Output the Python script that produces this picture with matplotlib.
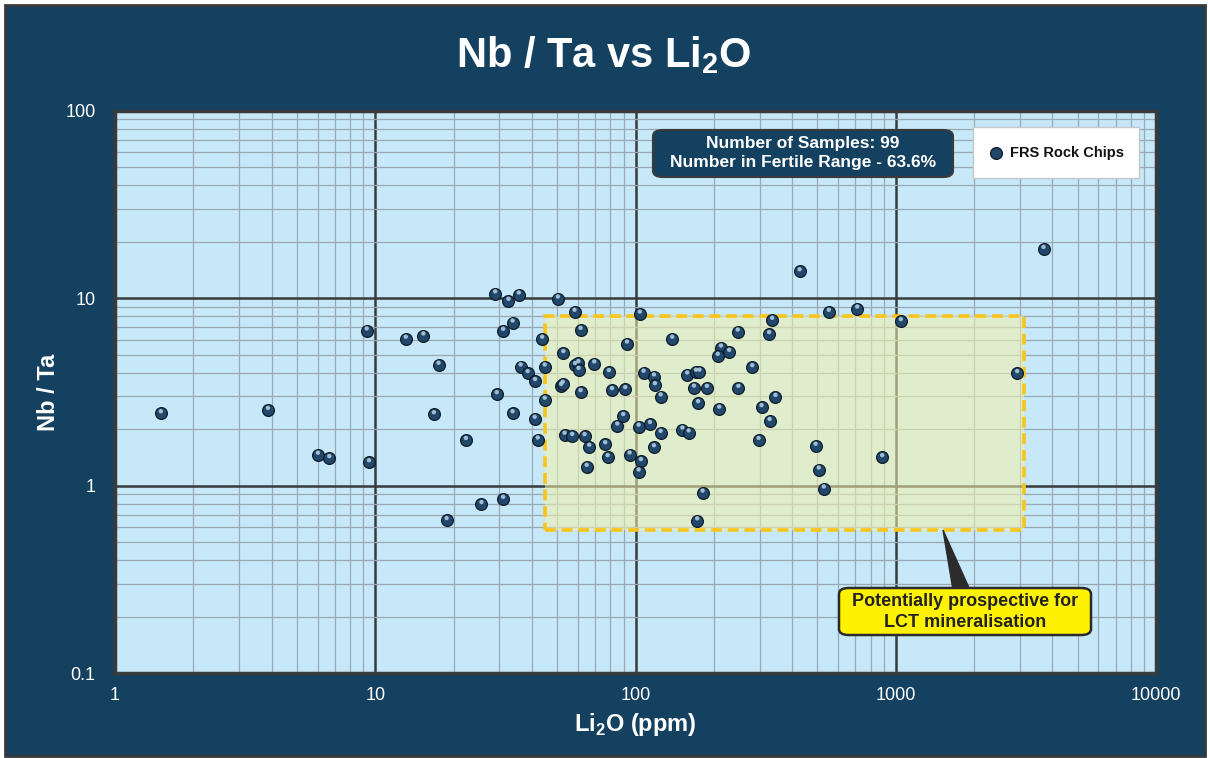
import matplotlib
matplotlib.use("Agg")
import matplotlib.pyplot as plt
from matplotlib.patches import Rectangle, FancyBboxPatch, Polygon
from matplotlib.ticker import LogLocator, FixedLocator, NullFormatter
import matplotlib.transforms as mtransforms

plt.rcParams['font.family'] = ['Liberation Sans', 'DejaVu Sans']
plt.rcParams['mathtext.fontset'] = 'custom'
plt.rcParams['mathtext.rm'] = 'Liberation Sans:bold'
plt.rcParams['mathtext.bf'] = 'Liberation Sans:bold'

# Li2O (ppm) and Nb/Ta for FRS rock chips
li2o = [1.5, 3.87, 6.02, 6.66, 9.46, 9.27, 13.1, 15.3, 17.5, 16.8,
        18.8, 28.9, 32.5, 35.6, 50.3, 58.3, 103.9, 33.7, 31.0, 61.5,
        43.8, 138.4, 247, 92.7, 213, 229, 207, 52.8, 36.2, 38.5,
        44.8, 41.1, 58.5, 60.3, 60.4, 69.4, 79.0, 107.4, 117.7, 118.7,
        158, 170.6, 176, 51.8, 52.5, 61.5, 81.2, 91.3, 124.9, 167.7,
        188, 248.5, 44.8, 29.3, 174, 209.7, 33.7, 41.0, 89.7, 85.1,
        102.8, 113.6, 124.9, 151.4, 160, 42.1, 53.4, 57.1, 63.7, 66.4,
        76.5, 78.1, 94.9, 117.7, 104.9, 102.8, 64.9, 22.3, 31.0, 25.6,
        181, 172.6, 3697, 427, 553, 711, 1046, 335, 326, 281,
        345, 305, 327.5, 297, 492, 887, 506, 529, 2927]
nb_ta = [2.43, 2.53, 1.46, 1.40, 1.33, 6.72, 6.07, 6.32, 4.41, 2.40,
         0.654, 10.6, 9.67, 10.45, 9.95, 8.45, 8.27, 7.41, 6.69, 6.77,
         6.07, 6.07, 6.63, 5.72, 5.45, 5.17, 4.92, 5.09, 4.32, 3.98,
         4.32, 3.61, 4.39, 4.50, 4.14, 4.48, 4.03, 4.00, 3.82, 3.43,
         3.91, 4.05, 4.05, 3.40, 3.49, 3.15, 3.23, 3.27, 2.99, 3.33,
         3.32, 3.32, 2.87, 3.07, 2.75, 2.57, 2.43, 2.27, 2.35, 2.09,
         2.06, 2.13, 1.91, 1.99, 1.92, 1.76, 1.865, 1.84, 1.835, 1.61,
         1.66, 1.417, 1.464, 1.60, 1.35, 1.188, 1.258, 1.75, 0.849, 0.796,
         0.917, 0.652, 18.3, 13.9, 8.45, 8.80, 7.54, 7.66, 6.43, 4.28,
         2.97, 2.62, 2.21, 1.75, 1.63, 1.417, 1.217, 0.964, 3.98]

fertile_x = [45, 3100]
fertile_y = [0.58, 8]

navy = '#14415f'

fig = plt.figure(figsize=(12.08, 7.58), dpi=100, facecolor='white')
fig.patches.append(Rectangle((5 / 1208, 2 / 758), 1200 / 1208, 751 / 758,
                             transform=fig.transFigure, facecolor=navy,
                             edgecolor='#3a3a3a', lw=2, zorder=-5))

ax = fig.add_axes([115 / 1208, 1 - 673.1 / 758, 1041 / 1208, 562.2 / 758])
ax.set_facecolor('#c6e8f8')
ax.set_xscale('log')
ax.set_yscale('log')
ax.set_xlim(1, 10000)
ax.set_ylim(0.1, 100)

ax.xaxis.set_major_locator(FixedLocator([1, 10, 100, 1000, 10000]))
ax.yaxis.set_major_locator(FixedLocator([0.1, 1, 10, 100]))
ax.set_xticklabels(['1', '10', '100', '1000', '10000'])
ax.set_yticklabels(['0.1', '1', '10', '100'])
ax.xaxis.set_minor_locator(LogLocator(base=10, subs=range(2, 10), numticks=20))
ax.yaxis.set_minor_locator(LogLocator(base=10, subs=range(2, 10), numticks=20))
ax.xaxis.set_minor_formatter(NullFormatter())
ax.yaxis.set_minor_formatter(NullFormatter())
ax.tick_params(which='both', length=0)
ax.tick_params(axis='x', colors='white', labelsize=13, pad=10)
ax.tick_params(axis='y', colors='white', labelsize=13, pad=14)
ax.grid(which='minor', color='#9aa8b5', lw=0.9, zorder=1)
ax.grid(which='major', color='#3a3a3a', lw=1.8, zorder=1.5)
for s in ax.spines.values():
    s.set_color('#3a3a3a')
    s.set_linewidth(2.5)
    s.set_zorder(5)

# fertile range box
ax.add_patch(Rectangle((fertile_x[0], fertile_y[0]), fertile_x[1] - fertile_x[0],
                       fertile_y[1] - fertile_y[0], facecolor='#f4f2a8', alpha=0.55,
                       edgecolor='none', zorder=2))
ax.add_patch(Rectangle((fertile_x[0], fertile_y[0]), fertile_x[1] - fertile_x[0],
                       fertile_y[1] - fertile_y[0], facecolor='none',
                       edgecolor='#f8c51c', lw=2.6, ls=(0, (3, 1.6)), zorder=3))

# points with a small highlight to look like spheres
ax.scatter(li2o, nb_ta, s=72, color='#21486a', edgecolor='#0d1c2a', lw=0.9, zorder=6)
hl = mtransforms.offset_copy(ax.transData, fig=fig, x=0, y=1.6, units='points')
ax.scatter(li2o, nb_ta, s=10, color='#aecbe0', edgecolor='none', alpha=0.9,
           transform=hl, zorder=7)

ax.set_xlabel(r'Li$_\mathbf{2}$O (ppm)', color='white', fontsize=17,
              fontweight='bold', labelpad=5)
ax.set_ylabel('Nb / Ta', color='white', fontsize=17, fontweight='bold', labelpad=4)

fig.text(0.5, 1 - 55 / 758, r'Nb / Ta vs Li$_\mathbf{2}$O', color='white', fontsize=30,
         fontweight='bold', ha='center', va='center')

# info box
fig.patches.append(FancyBboxPatch((653 / 1208, 1 - 177 / 758), 300 / 1208, 47 / 758,
                                  boxstyle='round,pad=0,rounding_size=0.008',
                                  transform=fig.transFigure, facecolor=navy,
                                  edgecolor='#3a3a3a', lw=1.5, zorder=10))
fig.text(803 / 1208, 1 - 153 / 758, 'Number of Samples: 99\nNumber in Fertile Range - 63.6%',
         color='white', fontsize=12.5, fontweight='bold', ha='center', va='center',
         linespacing=1.35, zorder=11)

# legend box
fig.patches.append(Rectangle((973 / 1208, 1 - 178 / 758), 166 / 1208, 51 / 758,
                             transform=fig.transFigure, facecolor='white',
                             edgecolor='#c8c8c8', lw=1, zorder=10))
fig.lines.append(plt.Line2D([996 / 1208], [1 - 153 / 758], transform=fig.transFigure,
                            marker='o', ms=8.5, mfc='#21486a', mec='#0d1c2a', mew=0.9,
                            zorder=11))
fig.text(1010 / 1208, 1 - 153 / 758, 'FRS Rock Chips', color='#111111', fontsize=10.5,
         fontweight='bold', ha='left', va='center', zorder=11,
         family=['Liberation Sans Narrow', 'Liberation Sans'])

# callout
fig.patches.append(Polygon([(943 / 1208, 1 - 530 / 758), (953 / 1208, 1 - 590 / 758),
                            (970 / 1208, 1 - 590 / 758)], closed=True,
                           transform=fig.transFigure, facecolor='#2b2b2b',
                           edgecolor='#2b2b2b', zorder=10))
fig.patches.append(FancyBboxPatch((839 / 1208, 1 - 635 / 758), 252 / 1208, 47 / 758,
                                  boxstyle='round,pad=0,rounding_size=0.008',
                                  transform=fig.transFigure, facecolor='#fff200',
                                  edgecolor='#2b2b2b', lw=1.8, zorder=11))
fig.text(965 / 1208, 1 - 612 / 758, 'Potentially prospective for\nLCT mineralisation',
         color='#222222', fontsize=13, fontweight='bold', ha='center', va='center',
         linespacing=1.3, zorder=12)

fig.savefig('out.png', dpi=100, facecolor='white')
